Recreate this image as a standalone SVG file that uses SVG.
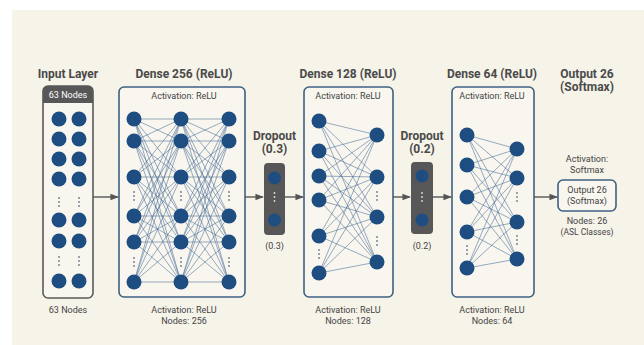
<svg xmlns="http://www.w3.org/2000/svg" width="644" height="345" viewBox="0 0 644 345">
<defs>
<marker id="ah" viewBox="0 0 10 10" refX="9" refY="5" markerWidth="6" markerHeight="6" orient="auto"><path d="M0,1 L10,5 L0,9 z" fill="#555"/></marker>
<style>
.t{font-family:Roboto,"Liberation Sans",sans-serif;fill:#444;text-anchor:middle}
.h{font-size:12px;font-weight:bold;fill:#4a4a4a}
.s{font-size:9px}
.box{fill:#f8f6ef;stroke:#3e6283;stroke-width:1.6}
.n{fill:#1e4d82}
.dk{fill:#575757}
.d{fill:#6a7a8c}
.e line{stroke:#456a94;stroke-width:0.65;stroke-opacity:0.85}
.c{stroke:#555;stroke-width:1.4;fill:none}
</style>
</defs>
<rect width="644" height="345" fill="#ffffff"/>
<rect x="12" y="10" width="632" height="335" fill="#f6f3e9"/>

<g id="input">
<text class="t h" x="68" y="78">Input Layer</text>
<rect class="box" x="43" y="86" width="50" height="212" rx="5" style="stroke:#5a5a5a"/>
<path d="M43,103 V91 a5,5 0 0 1 5,-5 H88 a5,5 0 0 1 5,5 V103 z" class="dk"/>
<text class="t s" x="68" y="98" style="fill:#fff">63 Nodes</text>
<g class="n">
<circle cx="59" cy="119" r="7.5"/><circle cx="79" cy="119" r="7.5"/>
<circle cx="59" cy="139" r="7.5"/><circle cx="79" cy="139" r="7.5"/>
<circle cx="59" cy="159" r="7.5"/><circle cx="79" cy="159" r="7.5"/>
<circle cx="59" cy="179" r="7.5"/><circle cx="79" cy="179" r="7.5"/>
<circle cx="59" cy="220" r="7.5"/><circle cx="79" cy="220" r="7.5"/>
<circle cx="59" cy="241" r="7.5"/><circle cx="79" cy="241" r="7.5"/>
<circle cx="59" cy="281" r="7.5"/><circle cx="79" cy="281" r="7.5"/>
</g>
<g class="d">
<circle cx="59" cy="198" r="0.9"/><circle cx="59" cy="202" r="0.9"/><circle cx="59" cy="206" r="0.9"/>
<circle cx="79" cy="198" r="0.9"/><circle cx="79" cy="202" r="0.9"/><circle cx="79" cy="206" r="0.9"/>
<circle cx="59" cy="257" r="0.9"/><circle cx="59" cy="261" r="0.9"/><circle cx="59" cy="265" r="0.9"/>
<circle cx="79" cy="257" r="0.9"/><circle cx="79" cy="261" r="0.9"/><circle cx="79" cy="265" r="0.9"/>
</g>
<text class="t s" x="68" y="313">63 Nodes</text>
</g>

<g id="dense256">
<text class="t h" x="184" y="78">Dense 256 (ReLU)</text>
<rect class="box" x="119" y="87" width="126" height="210" rx="5"/>
<text class="t s" x="184" y="99">Activation: ReLU</text>
<g class="e">
<line x1="134" y1="119" x2="181" y2="119"/><line x1="134" y1="119" x2="181" y2="141"/><line x1="134" y1="119" x2="181" y2="177"/><line x1="134" y1="119" x2="181" y2="216"/><line x1="134" y1="119" x2="181" y2="242"/><line x1="134" y1="119" x2="181" y2="282"/>
<line x1="134" y1="141" x2="181" y2="119"/><line x1="134" y1="141" x2="181" y2="141"/><line x1="134" y1="141" x2="181" y2="177"/><line x1="134" y1="141" x2="181" y2="216"/><line x1="134" y1="141" x2="181" y2="242"/><line x1="134" y1="141" x2="181" y2="282"/>
<line x1="134" y1="177" x2="181" y2="119"/><line x1="134" y1="177" x2="181" y2="141"/><line x1="134" y1="177" x2="181" y2="177"/><line x1="134" y1="177" x2="181" y2="216"/><line x1="134" y1="177" x2="181" y2="242"/><line x1="134" y1="177" x2="181" y2="282"/>
<line x1="134" y1="216" x2="181" y2="119"/><line x1="134" y1="216" x2="181" y2="141"/><line x1="134" y1="216" x2="181" y2="177"/><line x1="134" y1="216" x2="181" y2="216"/><line x1="134" y1="216" x2="181" y2="242"/><line x1="134" y1="216" x2="181" y2="282"/>
<line x1="134" y1="242" x2="181" y2="119"/><line x1="134" y1="242" x2="181" y2="141"/><line x1="134" y1="242" x2="181" y2="177"/><line x1="134" y1="242" x2="181" y2="216"/><line x1="134" y1="242" x2="181" y2="242"/><line x1="134" y1="242" x2="181" y2="282"/>
<line x1="134" y1="282" x2="181" y2="119"/><line x1="134" y1="282" x2="181" y2="141"/><line x1="134" y1="282" x2="181" y2="177"/><line x1="134" y1="282" x2="181" y2="216"/><line x1="134" y1="282" x2="181" y2="242"/><line x1="134" y1="282" x2="181" y2="282"/>
<line x1="181" y1="119" x2="229" y2="119"/><line x1="181" y1="119" x2="229" y2="141"/><line x1="181" y1="119" x2="229" y2="177"/><line x1="181" y1="119" x2="229" y2="216"/><line x1="181" y1="119" x2="229" y2="242"/><line x1="181" y1="119" x2="229" y2="282"/>
<line x1="181" y1="141" x2="229" y2="119"/><line x1="181" y1="141" x2="229" y2="141"/><line x1="181" y1="141" x2="229" y2="177"/><line x1="181" y1="141" x2="229" y2="216"/><line x1="181" y1="141" x2="229" y2="242"/><line x1="181" y1="141" x2="229" y2="282"/>
<line x1="181" y1="177" x2="229" y2="119"/><line x1="181" y1="177" x2="229" y2="141"/><line x1="181" y1="177" x2="229" y2="177"/><line x1="181" y1="177" x2="229" y2="216"/><line x1="181" y1="177" x2="229" y2="242"/><line x1="181" y1="177" x2="229" y2="282"/>
<line x1="181" y1="216" x2="229" y2="119"/><line x1="181" y1="216" x2="229" y2="141"/><line x1="181" y1="216" x2="229" y2="177"/><line x1="181" y1="216" x2="229" y2="216"/><line x1="181" y1="216" x2="229" y2="242"/><line x1="181" y1="216" x2="229" y2="282"/>
<line x1="181" y1="242" x2="229" y2="119"/><line x1="181" y1="242" x2="229" y2="141"/><line x1="181" y1="242" x2="229" y2="177"/><line x1="181" y1="242" x2="229" y2="216"/><line x1="181" y1="242" x2="229" y2="242"/><line x1="181" y1="242" x2="229" y2="282"/>
<line x1="181" y1="282" x2="229" y2="119"/><line x1="181" y1="282" x2="229" y2="141"/><line x1="181" y1="282" x2="229" y2="177"/><line x1="181" y1="282" x2="229" y2="216"/><line x1="181" y1="282" x2="229" y2="242"/><line x1="181" y1="282" x2="229" y2="282"/>
</g>
<g class="n">
<circle cx="134" cy="119" r="7.5"/><circle cx="134" cy="141" r="7.5"/><circle cx="134" cy="177" r="7.5"/><circle cx="134" cy="216" r="7.5"/><circle cx="134" cy="242" r="7.5"/><circle cx="134" cy="282" r="7.5"/>
<circle cx="181" cy="119" r="7.5"/><circle cx="181" cy="141" r="7.5"/><circle cx="181" cy="177" r="7.5"/><circle cx="181" cy="216" r="7.5"/><circle cx="181" cy="242" r="7.5"/><circle cx="181" cy="282" r="7.5"/>
<circle cx="229" cy="119" r="7.5"/><circle cx="229" cy="141" r="7.5"/><circle cx="229" cy="177" r="7.5"/><circle cx="229" cy="216" r="7.5"/><circle cx="229" cy="242" r="7.5"/><circle cx="229" cy="282" r="7.5"/>
</g>
<g class="d">
<circle cx="134" cy="192" r="0.9"/><circle cx="134" cy="196" r="0.9"/><circle cx="134" cy="200" r="0.9"/>
<circle cx="181" cy="192" r="0.9"/><circle cx="181" cy="196" r="0.9"/><circle cx="181" cy="200" r="0.9"/>
<circle cx="229" cy="192" r="0.9"/><circle cx="229" cy="196" r="0.9"/><circle cx="229" cy="200" r="0.9"/>
<circle cx="134" cy="258" r="0.9"/><circle cx="134" cy="262" r="0.9"/><circle cx="134" cy="266" r="0.9"/>
<circle cx="181" cy="258" r="0.9"/><circle cx="181" cy="262" r="0.9"/><circle cx="181" cy="266" r="0.9"/>
<circle cx="229" cy="258" r="0.9"/><circle cx="229" cy="262" r="0.9"/><circle cx="229" cy="266" r="0.9"/>
</g>
<text class="t s" x="184" y="313">Activation: ReLU</text>
<text class="t s" x="184" y="324">Nodes: 256</text>
</g>

<g id="dropout1">
<text class="t h" x="274.5" y="140">Dropout</text>
<text class="t h" x="274.5" y="153">(0.3)</text>
<rect class="dk" x="264" y="163" width="21" height="72" rx="4"/>
<circle class="n" cx="274.5" cy="178" r="6.5"/>
<circle class="n" cx="274.5" cy="220" r="6.5"/>
<circle cx="274.5" cy="193" r="0.9" fill="#ddd"/><circle cx="274.5" cy="197" r="0.9" fill="#ddd"/><circle cx="274.5" cy="201" r="0.9" fill="#ddd"/>
<text class="t s" x="274.5" y="249">(0.3)</text>
</g>

<g id="dense128">
<text class="t h" x="348" y="78">Dense 128 (ReLU)</text>
<rect class="box" x="304" y="87" width="89" height="210" rx="5"/>
<text class="t s" x="348" y="99">Activation: ReLU</text>
<g class="e">
<line x1="319" y1="121" x2="377" y2="135"/><line x1="319" y1="121" x2="377" y2="177"/><line x1="319" y1="121" x2="377" y2="217"/><line x1="319" y1="121" x2="377" y2="262"/>
<line x1="319" y1="151" x2="377" y2="135"/><line x1="319" y1="151" x2="377" y2="177"/><line x1="319" y1="151" x2="377" y2="217"/><line x1="319" y1="151" x2="377" y2="262"/>
<line x1="319" y1="176" x2="377" y2="135"/><line x1="319" y1="176" x2="377" y2="177"/><line x1="319" y1="176" x2="377" y2="217"/><line x1="319" y1="176" x2="377" y2="262"/>
<line x1="319" y1="200" x2="377" y2="135"/><line x1="319" y1="200" x2="377" y2="177"/><line x1="319" y1="200" x2="377" y2="217"/><line x1="319" y1="200" x2="377" y2="262"/>
<line x1="319" y1="236" x2="377" y2="135"/><line x1="319" y1="236" x2="377" y2="177"/><line x1="319" y1="236" x2="377" y2="217"/><line x1="319" y1="236" x2="377" y2="262"/>
<line x1="319" y1="273" x2="377" y2="135"/><line x1="319" y1="273" x2="377" y2="177"/><line x1="319" y1="273" x2="377" y2="217"/><line x1="319" y1="273" x2="377" y2="262"/>
</g>
<g class="n">
<circle cx="319" cy="121" r="7.5"/><circle cx="319" cy="151" r="7.5"/><circle cx="319" cy="176" r="7.5"/><circle cx="319" cy="200" r="7.5"/><circle cx="319" cy="236" r="7.5"/><circle cx="319" cy="273" r="7.5"/>
<circle cx="377" cy="135" r="7.5"/><circle cx="377" cy="177" r="7.5"/><circle cx="377" cy="217" r="7.5"/><circle cx="377" cy="262" r="7.5"/>
</g>
<g class="d">
<circle cx="319" cy="250" r="0.9"/><circle cx="319" cy="254" r="0.9"/><circle cx="319" cy="258" r="0.9"/>
<circle cx="377" cy="192" r="0.9"/><circle cx="377" cy="196" r="0.9"/><circle cx="377" cy="200" r="0.9"/>
<circle cx="377" cy="237" r="0.9"/><circle cx="377" cy="241" r="0.9"/><circle cx="377" cy="245" r="0.9"/>
</g>
<text class="t s" x="348" y="313">Activation: ReLU</text>
<text class="t s" x="348" y="324">Nodes: 128</text>
</g>

<g id="dropout2">
<text class="t h" x="422" y="140">Dropout</text>
<text class="t h" x="422" y="153">(0.2)</text>
<rect class="dk" x="411" y="162" width="22" height="72" rx="4"/>
<circle class="n" cx="422" cy="176" r="6.5"/>
<circle class="n" cx="422" cy="220" r="6.5"/>
<circle cx="422" cy="193" r="0.9" fill="#ddd"/><circle cx="422" cy="197" r="0.9" fill="#ddd"/><circle cx="422" cy="201" r="0.9" fill="#ddd"/>
<text class="t s" x="422" y="249">(0.2)</text>
</g>

<g id="dense64">
<text class="t h" x="492" y="78">Dense 64 (ReLU)</text>
<rect class="box" x="452" y="87" width="82" height="210" rx="5"/>
<text class="t s" x="492" y="99">Activation: ReLU</text>
<g class="e">
<line x1="467" y1="135" x2="517" y2="149"/><line x1="467" y1="135" x2="517" y2="178"/><line x1="467" y1="135" x2="517" y2="222"/><line x1="467" y1="135" x2="517" y2="259"/>
<line x1="467" y1="165" x2="517" y2="149"/><line x1="467" y1="165" x2="517" y2="178"/><line x1="467" y1="165" x2="517" y2="222"/><line x1="467" y1="165" x2="517" y2="259"/>
<line x1="467" y1="197" x2="517" y2="149"/><line x1="467" y1="197" x2="517" y2="178"/><line x1="467" y1="197" x2="517" y2="222"/><line x1="467" y1="197" x2="517" y2="259"/>
<line x1="467" y1="232" x2="517" y2="149"/><line x1="467" y1="232" x2="517" y2="178"/><line x1="467" y1="232" x2="517" y2="222"/><line x1="467" y1="232" x2="517" y2="259"/>
<line x1="467" y1="268" x2="517" y2="149"/><line x1="467" y1="268" x2="517" y2="178"/><line x1="467" y1="268" x2="517" y2="222"/><line x1="467" y1="268" x2="517" y2="259"/>
</g>
<g class="n">
<circle cx="467" cy="135" r="7.5"/><circle cx="467" cy="165" r="7.5"/><circle cx="467" cy="197" r="7.5"/><circle cx="467" cy="232" r="7.5"/><circle cx="467" cy="268" r="7.5"/>
<circle cx="517" cy="149" r="7.5"/><circle cx="517" cy="178" r="7.5"/><circle cx="517" cy="222" r="7.5"/><circle cx="517" cy="259" r="7.5"/>
</g>
<g class="d">
<circle cx="467" cy="246" r="0.9"/><circle cx="467" cy="250" r="0.9"/><circle cx="467" cy="254" r="0.9"/>
<circle cx="517" cy="193" r="0.9"/><circle cx="517" cy="197" r="0.9"/><circle cx="517" cy="201" r="0.9"/>
<circle cx="517" cy="236" r="0.9"/><circle cx="517" cy="240" r="0.9"/><circle cx="517" cy="244" r="0.9"/>
</g>
<text class="t s" x="492" y="313">Activation: ReLU</text>
<text class="t s" x="492" y="324">Nodes: 64</text>
</g>

<g id="output">
<text class="t h" x="587" y="78">Output 26</text>
<text class="t h" x="587" y="91">(Softmax)</text>
<text class="t s" x="587" y="162">Activation:</text>
<text class="t s" x="587" y="173">Softmax</text>
<rect class="box" x="558" y="180" width="58" height="31" rx="5"/>
<text class="t s" x="587" y="193">Output 26</text>
<text class="t s" x="587" y="204">(Softmax)</text>
<text class="t s" x="587" y="224">Nodes: 26</text>
<text class="t s" x="587" y="235" style="font-size:8.5px">(ASL Classes)</text>
</g>

<g id="connectors">
<line class="c" x1="93" y1="197" x2="118" y2="197" marker-end="url(#ah)"/>
<line class="c" x1="245" y1="197" x2="263" y2="197" marker-end="url(#ah)"/>
<line class="c" x1="285" y1="197" x2="303" y2="197" marker-end="url(#ah)"/>
<line class="c" x1="393" y1="197" x2="410" y2="197" marker-end="url(#ah)"/>
<line class="c" x1="433" y1="197" x2="451" y2="197" marker-end="url(#ah)"/>
<line class="c" x1="534" y1="197" x2="557" y2="197" marker-end="url(#ah)"/>
</g>
</svg>
